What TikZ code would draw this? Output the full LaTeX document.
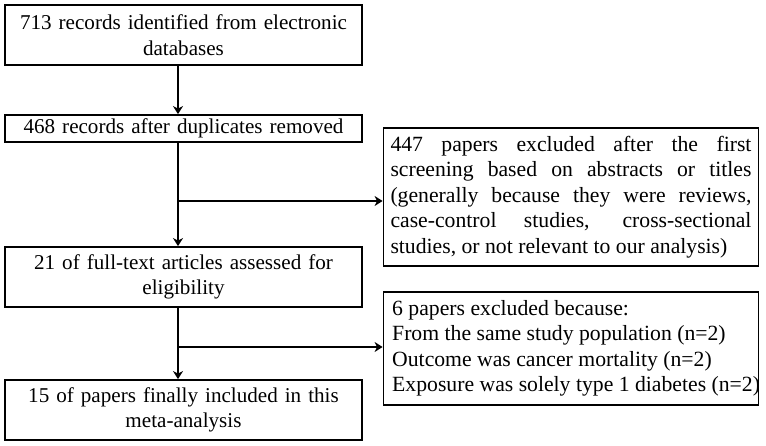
\documentclass[tikz,border=0pt]{standalone}
\usepackage{fontspec}
\setmainfont{Liberation Serif}
\usetikzlibrary{arrows.meta}
\begin{document}
\begin{tikzpicture}[x=1pt,y=-1pt,
  lbox/.style={draw, line width=1.8pt, inner sep=0pt, minimum width=357pt, text width=345pt, align=center, font=\fontsize{21.1}{25.5}\selectfont},
  rbox/.style={draw, line width=1.8pt, inner sep=0pt, minimum width=375pt, font=\fontsize{21.7}{25.5}\selectfont},
  rtext/.style={inner sep=0pt, align=left, font=\fontsize{21.7}{25.5}\selectfont},
  arr/.style={line width=1.8pt, -{Stealth[length=8pt,width=10pt,inset=2.5pt]}}]
\useasboundingbox (0,0) rectangle (766,446);
\node[lbox, minimum height=60pt] (b1) at (183.5,35) {713 records identified from electronic\\databases};
\node[lbox, minimum height=27pt] (b2) at (183.5,128.5) {468 records after duplicates removed};
\node[lbox, minimum height=60pt] (b4) at (183.5,277) {21 of full-text articles assessed for\\eligibility};
\node[lbox, minimum height=60pt] (b6) at (183.5,410) {15 of papers finally included in this\\meta-analysis};
\node[rbox, minimum height=138pt, text width=361pt, align=justify] (b3) at (571,197)
  {447 papers excluded after the first\linebreak screening based on abstracts or titles\linebreak (generally because they were reviews,\linebreak case-control studies, cross-sectional\linebreak studies, or not relevant to our analysis)};
\node[rbox, minimum height=113pt] (b5) at (571,348.5) {};
\node[rtext, anchor=west] (t5) at (392,348.5)
  {6 papers excluded because:\\From the same study population (n=2)\\Outcome was cancer mortality (n=2)\\Exposure was solely type 1 diabetes (n=2)};
\coordinate (sp) at (178,0);
\coordinate (j1) at (178,201);
\coordinate (j2) at (178,347);
\draw[arr] (b1.south -| sp) -- (b2.north -| sp);
\draw[arr] (b2.south -| sp) -- (b4.north -| sp);
\draw[arr] (b4.south -| sp) -- (b6.north -| sp);
\draw[arr] (j1) -- (b3.west |- j1);
\draw[arr] (j2) -- (b5.west |- j2);
\end{tikzpicture}
\end{document}
